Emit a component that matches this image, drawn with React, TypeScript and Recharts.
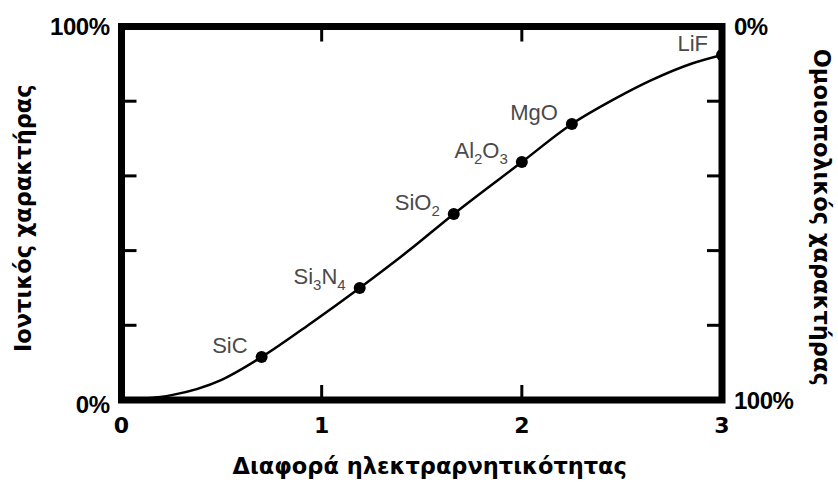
import React from 'react';
import {
  ComposedChart,
  Line,
  Scatter,
  XAxis,
  YAxis,
  ReferenceArea,
  Label,
} from 'recharts';

// curve (electronegativity difference -> % ionic character)
const curveX = [0, 0.12, 0.25, 0.5, 0.7, 0.95, 1.19, 1.44, 1.66, 2.0, 2.25, 2.45, 2.65, 2.85, 3.0];
const curveY = [0, 0.4, 1.3, 5.4, 11.5, 20.7, 30.0, 40.2, 49.8, 63.7, 73.9, 80.2, 85.7, 90.1, 92.4];

const compounds = ['SiC', 'Si3N4', 'SiO2', 'Al2O3', 'MgO', 'LiF'];
const compoundX = [0.7, 1.19, 1.66, 2.0, 2.25, 3.0];
const compoundY = [11.5, 30.0, 49.8, 63.7, 73.9, 92.4];

const xTicks = [0, 1, 2, 3];
const yTicks = [0, 20, 40, 60, 80, 100];

const curveData = curveX.map((x, i) => ({ x, y: curveY[i] }));
const pointData = compounds.map((name, i) => ({ name, x: compoundX[i], y: compoundY[i] }));

const TICK_LEN = 15;
const TITLE_FONT = "'DejaVu Sans', Verdana, sans-serif";
const PCT_FONT = "'Liberation Sans', Arial, sans-serif";

function BottomTick({ x, y, payload }: any) {
  const v = payload.value;
  const inner = v !== xTicks[0] && v !== xTicks[xTicks.length - 1];
  return (
    <g>
      {inner && <line x1={x} y1={y} x2={x} y2={y - TICK_LEN} stroke="#000" strokeWidth={3} />}
      <text
        x={x}
        y={y + 25}
        textAnchor="middle"
        dominantBaseline="central"
        fontFamily={TITLE_FONT}
        fontWeight="bold"
        fontSize={22}
        fill="#000"
      >
        {v}
      </text>
    </g>
  );
}

function TopTick({ x, y, payload }: any) {
  const v = payload.value;
  if (v === xTicks[0] || v === xTicks[xTicks.length - 1]) return <g />;
  return <line x1={x} y1={y} x2={x} y2={y + TICK_LEN} stroke="#000" strokeWidth={3} />;
}

function LeftTick({ x, y, payload }: any) {
  const v = payload.value;
  const end = v === 0 || v === 100;
  return (
    <g>
      {!end && <line x1={x} y1={y} x2={x + TICK_LEN} y2={y} stroke="#000" strokeWidth={3} />}
      {end && (
        <text
          x={x - 12}
          y={y + (v === 0 ? 4 : 0)}
          textAnchor="end"
          dominantBaseline="central"
          fontFamily={PCT_FONT}
          fontWeight="bold"
          fontSize={24}
          letterSpacing={-0.5}
          fill="#000"
        >
          {v}%
        </text>
      )}
    </g>
  );
}

function RightTick({ x, y, payload }: any) {
  const v = payload.value;
  const end = v === 0 || v === 100;
  return (
    <g>
      {!end && <line x1={x} y1={y} x2={x - TICK_LEN} y2={y} stroke="#000" strokeWidth={3} />}
      {end && (
        <text
          x={x + 12}
          y={y}
          textAnchor="start"
          dominantBaseline="central"
          fontFamily={PCT_FONT}
          fontWeight="bold"
          fontSize={24}
          letterSpacing={-0.5}
          fill="#000"
        >
          {v}%
        </text>
      )}
    </g>
  );
}

function FormulaText({ x, y, formula }: { x: number; y: number; formula: string }) {
  const parts = formula.split(/(\d+)/).filter(Boolean);
  let shifted = false;
  return (
    <text x={x} y={y} textAnchor="end" fontFamily={PCT_FONT} fontSize={22} fill="#4a4a4a">
      {parts.map((p, i) => {
        const isSub = /^\d+$/.test(p);
        const dy = isSub ? 6 : shifted ? -6 : 0;
        shifted = isSub;
        return (
          <tspan key={i} dy={dy} fontSize={isSub ? 15 : 22}>
            {p}
          </tspan>
        );
      })}
    </text>
  );
}

function CompoundPoint(props: any) {
  const { cx, cy, payload } = props;
  return (
    <g>
      <circle cx={cx} cy={cy} r={6} fill="#000" />
      <FormulaText x={cx - 14} y={cy - 4} formula={payload.name} />
    </g>
  );
}

const titleProps = {
  fontFamily: TITLE_FONT,
  fontWeight: 'bold',
  fontSize: 22.5,
  fill: '#000',
  textAnchor: 'middle' as const,
  dominantBaseline: 'central' as const,
};

export default function App() {
  return (
    <div style={{ position: 'absolute', left: 0, top: 0, width: 838, height: 482, background: '#fff' }}>
      <ComposedChart
        width={838}
        height={482}
        margin={{ top: 25.5, left: 120.5, right: 115, bottom: 81 }}
      >
        <XAxis
          xAxisId="b"
          dataKey="x"
          type="number"
          domain={[0, 3]}
          ticks={xTicks}
          interval={0}
          height={1}
          tickSize={0}
          tickMargin={0}
          axisLine={false}
          tickLine={false}
          tick={<BottomTick />}
          allowDataOverflow
        >
          <Label
            content={({ viewBox }: any) => (
              <text x={viewBox.x + viewBox.width / 2 + 8} y={viewBox.y + 66} {...titleProps}>
                Διαφορά ηλεκτραρνητικότητας
              </text>
            )}
          />
        </XAxis>
        <XAxis
          xAxisId="t"
          orientation="top"
          dataKey="x"
          type="number"
          domain={[0, 3]}
          ticks={xTicks}
          interval={0}
          height={1}
          tickSize={0}
          tickMargin={0}
          axisLine={false}
          tickLine={false}
          tick={<TopTick />}
          allowDataOverflow
        />
        <YAxis
          yAxisId="l"
          dataKey="y"
          type="number"
          domain={[0, 100]}
          ticks={yTicks}
          interval={0}
          width={1}
          tickSize={0}
          tickMargin={0}
          axisLine={false}
          tickLine={false}
          tick={<LeftTick />}
          allowDataOverflow
        >
          <Label
            content={({ viewBox }: any) => {
              const cx = 23;
              const cy = viewBox.y + viewBox.height / 2 + 5;
              return (
                <text x={cx} y={cy} transform={`rotate(-90 ${cx} ${cy})`} {...titleProps}>
                  Ιοντικός χαρακτήρας
                </text>
              );
            }}
          />
        </YAxis>
        <YAxis
          yAxisId="r"
          orientation="right"
          type="number"
          domain={[0, 100]}
          reversed
          ticks={yTicks}
          interval={0}
          width={1}
          tickSize={0}
          tickMargin={0}
          axisLine={false}
          tickLine={false}
          tick={<RightTick />}
          allowDataOverflow
        >
          <Label
            content={({ viewBox }: any) => {
              const cx = 822;
              const cy = viewBox.y + viewBox.height / 2 + 4;
              return (
                <text x={cx} y={cy} transform={`rotate(90 ${cx} ${cy})`} {...titleProps}>
                  Ομοιοπολικός χαρακτήρας
                </text>
              );
            }}
          />
        </YAxis>
        <Line
          xAxisId="b"
          yAxisId="l"
          data={curveData}
          dataKey="y"
          type="monotone"
          stroke="#000"
          strokeWidth={2.5}
          dot={false}
          activeDot={false}
          isAnimationActive={false}
        />
        <ReferenceArea
          xAxisId="b"
          yAxisId="l"
          x1={0}
          x2={3}
          y1={0}
          y2={100}
          fill="none"
          stroke="#000"
          strokeWidth={7}
          ifOverflow="visible"
        />
        <Scatter
          xAxisId="b"
          yAxisId="l"
          data={pointData}
          dataKey="y"
          shape={<CompoundPoint />}
          isAnimationActive={false}
        />
      </ComposedChart>
    </div>
  );
}
